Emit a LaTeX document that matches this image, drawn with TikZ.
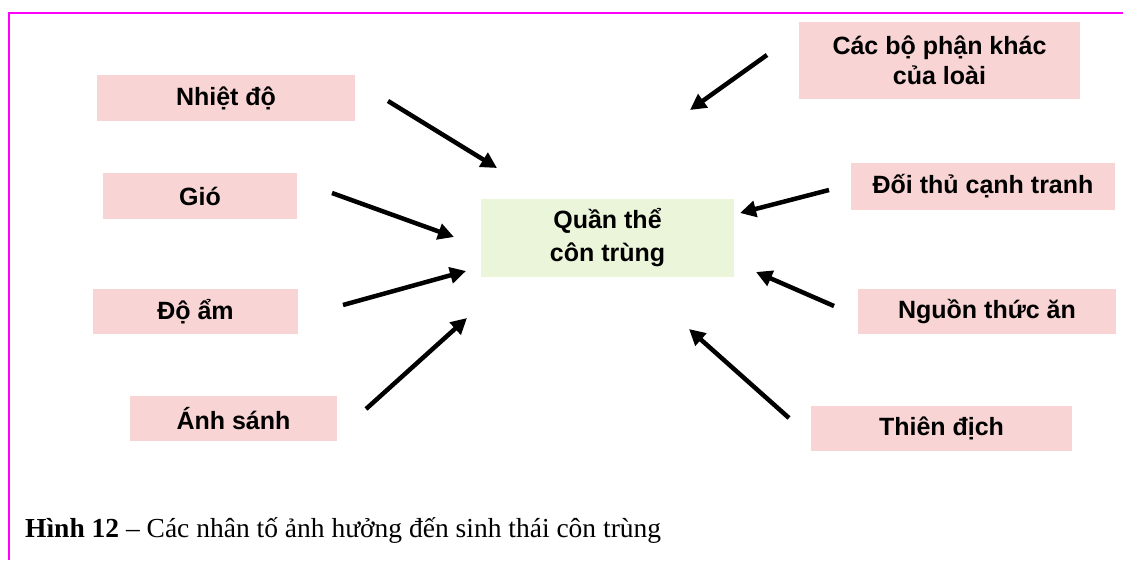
\documentclass[tikz,border=0pt]{standalone}
\usepackage{fontspec}
\setmainfont{Liberation Serif}
\newfontfamily\boxfont{Liberation Sans}
\usetikzlibrary{arrows.meta}
\definecolor{factorpink}{HTML}{F8D4D4}
\definecolor{coregreen}{HTML}{EBF5DA}
\definecolor{framemagenta}{HTML}{FF00FF}
\begin{document}
\begin{tikzpicture}[x=1pt,y=-1pt,
  factor/.style={rectangle, fill=factorpink, inner sep=0pt, align=center,
    font=\boxfont\bfseries\fontsize{25}{30}\selectfont},
  core/.style={rectangle, fill=coregreen, inner sep=0pt, align=center,
    font=\boxfont\bfseries\fontsize{25}{33}\selectfont},
  influence/.style={line width=4.5pt, -{Triangle[length=16pt,width=16pt]}}]
  \useasboundingbox (0,0) rectangle (1123,560);
  % page frame
  \draw[framemagenta, line width=2pt] (9,560) -- (9,12.5) -- (1123,12.5);

  % central node
  \node[core, minimum width=253pt, minimum height=78pt] (core) at (607.5,238) {Quần thể\\côn trùng};

  % factors on the left
  \node[factor, minimum width=258pt, minimum height=46pt] (temp)  at (226,98)    {Nhiệt độ};
  \node[factor, minimum width=194pt, minimum height=46pt] (wind)  at (200,196)   {Gió};
  \node[factor, minimum width=205pt, minimum height=45pt] (humid) at (195.5,311.5) {Độ ẩm};
  \node[factor, minimum width=207pt, minimum height=45pt] (light) at (233.5,418.5) {Ánh sánh};

  % factors on the right
  \node[factor, minimum width=281pt, minimum height=77pt] (kin)   at (939.5,60.5) {Các bộ phận khác\\của loài};
  \node[factor, minimum width=264pt, minimum height=47pt] (rival) at (983,186.5)  {Đối thủ cạnh tranh};
  \node[factor, minimum width=258pt, minimum height=45pt] (food)  at (987,311.5)  {Nguồn thức ăn};
  \node[factor, minimum width=261pt, minimum height=45pt] (enemy) at (941.5,428.5) {Thiên địch};

  % arrow ends
  \coordinate (tempS)  at (388,101);  \coordinate (tempE)  at (497,168);
  \coordinate (windS)  at (332,193);  \coordinate (windE)  at (454,237);
  \coordinate (humidS) at (343,305);  \coordinate (humidE) at (466,271);
  \coordinate (lightS) at (366,409);  \coordinate (lightE) at (467,318);
  \coordinate (kinS)   at (767,55);   \coordinate (kinE)   at (690,110);
  \coordinate (rivalS) at (829,190);  \coordinate (rivalE) at (740,213);
  \coordinate (foodS)  at (834,306);  \coordinate (foodE)  at (756,272);
  \coordinate (enemyS) at (789,418);  \coordinate (enemyE) at (689,329);

  \foreach \f in {temp,wind,humid,light,kin,rival,food,enemy}
    \draw[influence] (\f S) -- (\f E);

  % caption
  \node[anchor=base west, inner sep=0pt, font=\fontsize{27.5}{33}\selectfont] (caption) at (25,537)
    {\textbf{Hình 12} – Các nhân tố ảnh hưởng đến sinh thái côn trùng};
\end{tikzpicture}
\end{document}
